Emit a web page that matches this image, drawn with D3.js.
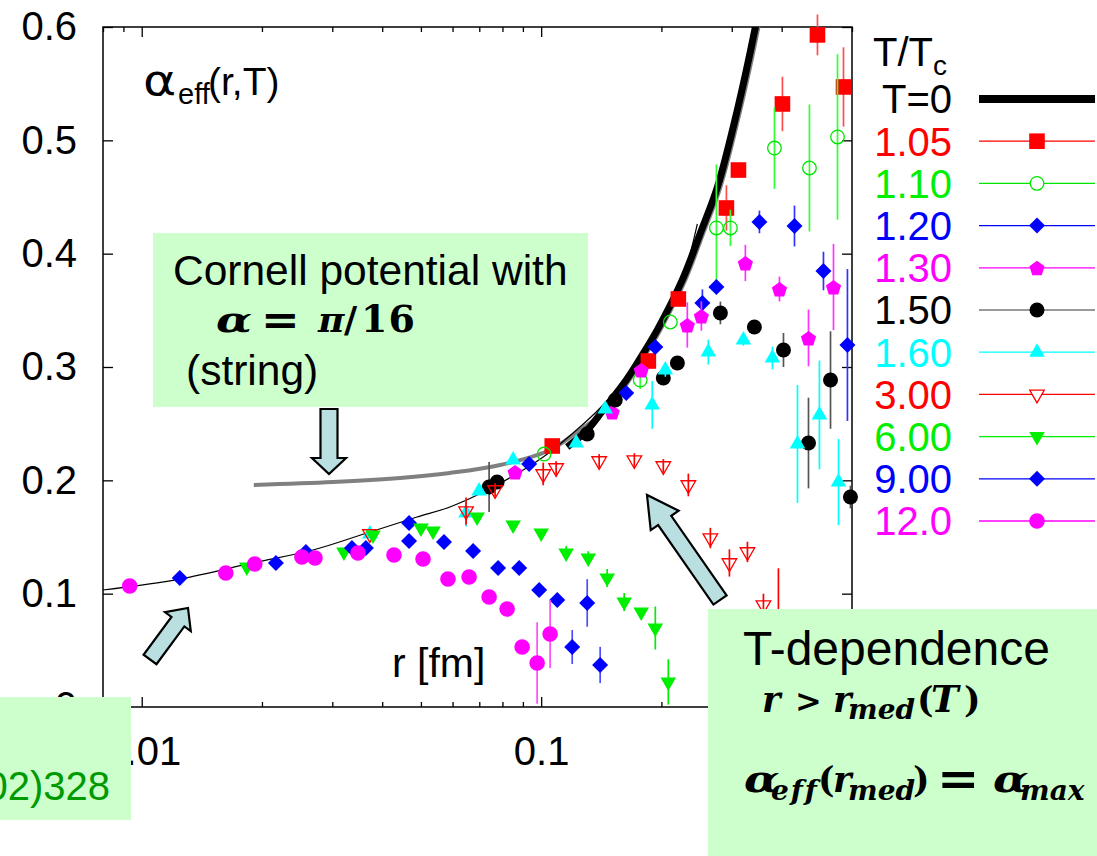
<!DOCTYPE html>
<html><head><meta charset="utf-8">
<script src="https://cdn.jsdelivr.net/npm/d3@7"></script>
<style>body{margin:0;background:#fff}svg{display:block}</style>
</head><body><svg id="c" width="1097" height="856"></svg>
<script>
// ---------------- data ----------------
const xDomain = [0.008, 0.6];
const yDomain = [0, 0.6];
const xMajor = [0.01, 0.1];
const xMajorLabels = ["0.01", "0.1"];
const xMinor = [0.008,0.009,0.02,0.03,0.04,0.05,0.06,0.07,0.08,0.09,0.2,0.3,0.4,0.5,0.6];
const yTicks = [0, 0.1, 0.2, 0.3, 0.4, 0.5, 0.6];
const yTickLabels = ["0", "0.1", "0.2", "0.3", "0.4", "0.5", "0.6"];

// T=0 curve (thick black)
const t0R = [0.1162,0.1304,0.1430,0.1633,0.1823,0.1953,0.2256,0.2504,0.2762,0.3098,0.3438,0.3539];
const t0A = [0.2294,0.2444,0.2621,0.2885,0.3150,0.3327,0.3768,0.4182,0.4588,0.5268,0.6000,0.6238];
// Cornell potential, alpha = pi/16 (gray)
const cornR = [0.01908,0.03011,0.04432,0.0591,0.07894,0.1053,0.1231,0.1455,0.1662,0.1855,0.1987,0.2296,0.2547,0.2810,0.3152,0.3499,0.3601];
const cornA = [0.1959,0.1985,0.2021,0.2065,0.2135,0.2268,0.2427,0.2621,0.2885,0.3150,0.3327,0.3768,0.4182,0.4588,0.5268,0.6000,0.6238];
// thin perturbative curve
const pertR = [0.00798,0.01245,0.01897,0.02683,0.03663,0.04888,0.0591,0.0758,0.1012,0.1202,0.1405,0.1671,0.1931,0.2230,0.2460];
const pertA = [0.1032,0.1129,0.1271,0.1385,0.1535,0.1676,0.1765,0.1941,0.2206,0.2418,0.2638,0.2956,0.3282,0.3712,0.4262];

const legendKeys = ["T=0","1.05","1.10","1.20","1.30","1.50","1.60","3.00","6.00","9.00","12.0"];

const r105 = [0.1066,0.1855,0.2205,0.2909,0.3118,0.4018,0.4917,0.5713];
const a105 = [0.2303,0.3053,0.3600,0.4403,0.4738,0.5321,0.5930,0.5471];
const e105 = [0,0,0,0.02,0.006,0.024,0.018,0.035];

const r110 = [0.1017,0.1770,0.2106,0.2746,0.2977,0.3837,0.4695,0.5519];
const a110 = [0.2232,0.2885,0.3397,0.4227,0.4227,0.4932,0.4756,0.5030];
const e110 = [0,0.008,0,0.056,0.016,0.036,0.056,0.073];

const r120 = [0.04669,0.0933,0.1633,0.1931,0.2533,0.2746,0.3519,0.4307,0.5090,0.5844];
const a120 = [0.1624,0.2144,0.2771,0.3177,0.3565,0.3706,0.4280,0.4244,0.3847,0.3194];
const e120 = [0,0,0,0,0.012,0,0.01,0.018,0.017,0.067];

const r130 = [0.08605,0.1506,0.1780,0.2322,0.2518,0.3245,0.3950,0.4669,0.5393];
const a130 = [0.2074,0.2603,0.2974,0.3371,0.3450,0.3918,0.3688,0.3256,0.3706];
const e130 = [0,0,0,0.02,0.013,0.016,0.011,0.025,0.038];

const r150 = [0.07408,0.07759,0.1304,0.1533,0.2022,0.2193,0.2810,0.3418,0.4042,0.4669,0.5301,0.5947];
const a150 = [0.1941,0.1985,0.2409,0.2709,0.2903,0.3035,0.3477,0.3353,0.3150,0.2329,0.2885,0.1853];
const e150 = [0.022,0,0,0,0,0.006,0.01,0,0.015,0.04,0.043,0.01];

const r160 = [0.03726,0.06486,0.06993,0.08507,0.1224,0.1447,0.1897,0.2046,0.2621,0.3208,0.3793,0.4382,0.4973,0.5551];
const a160 = [0.1527,0.1712,0.1906,0.2179,0.2329,0.2629,0.2665,0.2974,0.3132,0.3238,0.3080,0.2321,0.2577,0.1985];
const e160 = [0,0.012,0,0,0,0,0.021,0.006,0.011,0.005,0.01,0.052,0.048,0.038];

const r300 = [0.03726,0.06486,0.07667,0.1012,0.1090,0.1397,0.1711,0.2022,0.2336,0.2652,0.2960,0.3284,0.3601,0.3926];
const a300 = [0.1527,0.1729,0.1915,0.2056,0.2109,0.2171,0.2179,0.2127,0.1959,0.1491,0.1271,0.1368,0.0900,0.0724];
const e300 = [0,0.012,0.006,0.01,0.006,0.006,0.006,0.006,0.01,0.009,0.012,0.009,0.01,0.05];

const r600 = [0.01833,0.03208,0.03793,0.05002,0.05362,0.06912,0.08507,0.1,0.1155,0.1312,0.1463,0.1614,0.1780,0.1931,0.2081];
const a600 = [0.1235,0.1368,0.1518,0.1579,0.1553,0.1677,0.1606,0.1535,0.1359,0.1315,0.1138,0.0926,0.0838,0.0697,0.0221];
const e600 = [0,0,0,0,0,0,0,0,0.006,0.006,0.008,0.008,0,0.019,0.02];

const r900 = [0.01245,0.02167,0.02576,0.03359,0.03641,0.04669,0.05711,0.06755,0.07804,0.0881,0.09886,0.1097,0.1196,0.1304,0.1405];
const a900 = [0.1138,0.1271,0.1368,0.1403,0.1403,0.1465,0.1456,0.1376,0.1226,0.1226,0.1032,0.0944,0.0529,0.0918,0.0371];
const e900 = [0,0,0,0,0,0,0,0,0,0,0,0.006,0.015,0.021,0.016];

const r1200 = [0.00933,0.01624,0.01919,0.02518,0.02715,0.03478,0.04281,0.05061,0.05844,0.066,0.07408,0.08218,0.08961,0.0977,0.1053];
const a1200 = [0.1068,0.1182,0.1262,0.1324,0.1315,0.1359,0.1341,0.1306,0.1129,0.1147,0.0971,0.0865,0.0529,0.0388,0.0644];
const e1200 = [0,0,0,0,0,0,0,0,0,0,0.006,0,0.005,0.036,0.03];

// ---------------- styling / build ----------------
const series = [
  {key:"1.05", r:r105, a:a105, e:e105, shape:"square",  s:7.8, col:"#ff0000", ecol:"#ff4d4d", line:"#ff0000", open:false},
  {key:"1.10", r:r110, a:a110, e:e110, shape:"circle",  s:6.8, col:"#00e600", ecol:"#33ff33", line:"#00e600", open:true},
  {key:"1.20", r:r120, a:a120, e:e120, shape:"diamond", s:8,   col:"#0000ff", ecol:"#3333ff", line:"#0000ff", open:false},
  {key:"1.30", r:r130, a:a130, e:e130, shape:"pentagon",s:8,   col:"#ff00ff", ecol:"#ff33ff", line:"#ff00ff", open:false},
  {key:"1.50", r:r150, a:a150, e:e150, shape:"circle",  s:7.5, col:"#000000", ecol:"#555555", line:"#777777", open:false},
  {key:"1.60", r:r160, a:a160, e:e160, shape:"triUp",   s:7.8, col:"#00ffff", ecol:"#00ffff", line:"#00ffff", open:false},
  {key:"3.00", r:r300, a:a300, e:e300, shape:"triDown", s:7.3, col:"#ff0000", ecol:"#ff0000", line:"#ff0000", open:true},
  {key:"6.00", r:r600, a:a600, e:e600, shape:"triDown", s:7.8, col:"#00ee00", ecol:"#00ee00", line:"#00ee00", open:false},
  {key:"9.00", r:r900, a:a900, e:e900, shape:"diamond", s:8,   col:"#0000ff", ecol:"#4d4dff", line:"#0000ff", open:false},
  {key:"12.0", r:r1200,a:a1200,e:e1200,shape:"circle",  s:7.8, col:"#ff00ff", ecol:"#ff4dff", line:"#ff00ff", open:false}
];
const labelCol = {"T=0":"#000","1.05":"#ff0000","1.10":"#00ee00","1.20":"#0000ff","1.30":"#ff00ff","1.50":"#000","1.60":"#00ffff","3.00":"#ff0000","6.00":"#00ee00","9.00":"#0000ff","12.0":"#ff00ff"};

function sym(shape, s){
  if(shape==="square") return `M${-s},${-s}h${2*s}v${2*s}h${-2*s}Z`;
  if(shape==="circle") return `M${s},0A${s},${s} 0 1,1 ${-s},0A${s},${s} 0 1,1 ${s},0Z`;
  if(shape==="diamond") return `M0,${-s}L${s},0L0,${s}L${-s},0Z`;
  if(shape==="pentagon"){
    const p=d3.range(5).map(j=>{const t=(-90+72*j)*Math.PI/180;return [s*Math.cos(t),s*Math.sin(t)+1];});
    return "M"+p.map(q=>q.join(",")).join("L")+"Z";
  }
  if(shape==="triUp") return `M0,${-1.155*s}L${s},${0.577*s}L${-s},${0.577*s}Z`;
  if(shape==="triDown") return `M0,${1.155*s}L${s},${-0.577*s}L${-s},${-0.577*s}Z`;
}

const svg = d3.select("#c");
const FONT = "'Liberation Sans', Arial, Helvetica, sans-serif";
const MATH = "'DejaVu Serif', serif";
const x = d3.scaleLog().domain(xDomain).range([103, 852]);
const y = d3.scaleLinear().domain(yDomain).range([707, 27]);

svg.append("rect").attr("width",1097).attr("height",856).attr("fill","#fff");

// axes
function styleAxis(g){ g.select(".domain").remove(); g.selectAll("line").attr("stroke","#000").attr("stroke-width",1.3);
  g.attr("font-family",FONT).attr("font-size",40); g.selectAll("text").attr("fill","#000"); }
svg.append("g").attr("transform",`translate(0,${y(0)})`)
  .call(d3.axisBottom(x).tickValues(xMajor).tickSize(-10).tickPadding(30).tickFormat((d,i)=>xMajorLabels[i])).call(styleAxis);
svg.append("g").attr("transform",`translate(0,${y(0)})`)
  .call(d3.axisBottom(x).tickValues(xMinor).tickSize(-5).tickFormat("")).call(styleAxis);
svg.append("g").attr("transform",`translate(0,${y(0.6)})`)
  .call(d3.axisTop(x).tickValues(xMajor).tickSize(-10).tickFormat("")).call(styleAxis);
svg.append("g").attr("transform",`translate(0,${y(0.6)})`)
  .call(d3.axisTop(x).tickValues(xMinor).tickSize(-5).tickFormat("")).call(styleAxis);
svg.append("g").attr("transform",`translate(${x(xDomain[0])},0)`)
  .call(d3.axisLeft(y).tickValues(yTicks).tickSize(-10).tickPadding(26).tickFormat((d,i)=>yTickLabels[i])).call(styleAxis);
svg.append("g").attr("transform",`translate(${x(xDomain[1])},0)`)
  .call(d3.axisRight(y).tickValues(yTicks).tickSize(-10).tickFormat("")).call(styleAxis);

svg.append("rect").attr("x",x(xDomain[0])).attr("y",y(0.6)).attr("width",x(xDomain[1])-x(xDomain[0])).attr("height",y(0)-y(0.6))
  .attr("fill","none").attr("stroke","#000").attr("stroke-width",1.5);

// clip
svg.append("clipPath").attr("id","plotclip").append("rect")
  .attr("x",x(xDomain[0])).attr("y",y(0.6)).attr("width",x(xDomain[1])-x(xDomain[0])).attr("height",y(0)-y(0.6));

const line = d3.line().x(d=>x(d[0])).y(d=>y(d[1])).curve(d3.curveCatmullRom.alpha(0.5));
const curves = svg.append("g").attr("clip-path","url(#plotclip)");
curves.append("path").datum(d3.zip(cornR,cornA)).attr("d",line).attr("fill","none").attr("stroke","#808080").attr("stroke-width",4);
curves.append("path").datum(d3.zip(t0R,t0A)).attr("d",line).attr("fill","none").attr("stroke","#000").attr("stroke-width",7);
curves.append("path").datum(d3.zip(pertR,pertA)).attr("d",line).attr("fill","none").attr("stroke","#000").attr("stroke-width",1.2);

// data series
series.forEach(s=>{
  const g = svg.append("g");
  const pts = s.r.map((rv,i)=>({r:rv,a:s.a[i],e:s.e[i]}));
  g.selectAll("line.eb").data(pts.filter(p=>p.e>0)).join("line").attr("class","eb")
    .attr("x1",p=>x(p.r)).attr("x2",p=>x(p.r)).attr("y1",p=>y(p.a-p.e)).attr("y2",p=>y(p.a+p.e))
    .attr("stroke",s.ecol).attr("stroke-width",1.7);
  g.selectAll("path.m").data(pts).join("path").attr("class","m")
    .attr("d",sym(s.shape,s.s)).attr("transform",p=>`translate(${x(p.r)},${y(p.a)})`)
    .attr("fill",s.open?"none":s.col).attr("stroke",s.open?s.col:"none").attr("stroke-width",1.3);
});

// legend
const ly = d3.scalePoint().domain(legendKeys).range([99,521]);
svg.append("text").attr("x",873).attr("y",66).attr("font-family",FONT).attr("font-size",40).attr("fill","#000")
  .text("T/T").append("tspan").attr("font-size",28).attr("dy",9).text("c");
const lg = svg.append("g").attr("font-family",FONT).attr("font-size",40);
lg.selectAll("text").data(legendKeys).join("text").attr("x",952).attr("y",d=>ly(d)).attr("dy","0.36em")
  .attr("text-anchor","end").attr("fill",d=>labelCol[d]).text(d=>d);
lg.append("line").attr("x1",979).attr("x2",1095).attr("y1",ly("T=0")).attr("y2",ly("T=0")).attr("stroke","#000").attr("stroke-width",8);
series.forEach(s=>{
  lg.append("line").attr("x1",979).attr("x2",1095).attr("y1",ly(s.key)).attr("y2",ly(s.key)).attr("stroke",s.line).attr("stroke-width",1.3);
  lg.append("path").attr("d",sym(s.shape,s.s)).attr("transform",`translate(1037,${ly(s.key)})`)
    .attr("fill",s.open?"#fff":s.col).attr("stroke",s.open?s.col:"none").attr("stroke-width",1.3);
});

// axis titles
const ttl = svg.append("g").attr("font-family",FONT).attr("fill","#000");
ttl.append("text").attr("transform","translate(143,95) scale(1.2,1)").attr("font-family","'DejaVu Sans', sans-serif").attr("font-size",42).text("α");
ttl.append("text").attr("x",178).attr("y",104).attr("font-size",29).text("eff");
ttl.append("text").attr("x",208).attr("y",95).attr("font-size",39).text("(r,T)");
ttl.append("text").attr("x",392).attr("y",677).attr("font-size",41).text("r [fm]");

// ---------------- overlays ----------------
function arrow(tail, tip, sw, hw, hl){
  const dx=tip[0]-tail[0], dy=tip[1]-tail[1], L=Math.hypot(dx,dy), ux=dx/L, uy=dy/L, px=-uy, py=ux;
  const b=[tip[0]-ux*hl, tip[1]-uy*hl];
  const P=[[tail[0]+px*sw,tail[1]+py*sw],[b[0]+px*sw,b[1]+py*sw],[b[0]+px*hw,b[1]+py*hw],tip,
           [b[0]-px*hw,b[1]-py*hw],[b[0]-px*sw,b[1]-py*sw],[tail[0]-px*sw,tail[1]-py*sw]];
  svg.append("path").attr("d","M"+P.map(p=>p.join(",")).join("L")+"Z")
    .attr("fill","#badfe1").attr("stroke","#000").attr("stroke-width",2.2).attr("stroke-linejoin","miter");
}
function mtext(g, px, py, str, opt){
  opt = opt || {};
  const t = g.append("text").attr("transform",`translate(${px},${py}) scale(${opt.sx||1},1)`).text(str);
  if(opt.it) t.attr("font-style","italic");
  if(opt.fs) t.attr("font-size",opt.fs);
  if(opt.ls) t.attr("letter-spacing",opt.ls);
  return t;
}
const BOX = "#ccffcc";
// Cornell box
svg.append("rect").attr("x",153).attr("y",233).attr("width",435).attr("height",174).attr("fill",BOX);
svg.append("text").attr("x",173).attr("y",285).attr("font-family",FONT).attr("font-size",42.5).text("Cornell potential with");
const m1 = svg.append("g").attr("font-family",MATH).attr("font-weight","bold").attr("font-size",34);
mtext(m1,216,332,"α",{it:1,sx:1.3,fs:36});
mtext(m1,261,334,"=",{fs:42,sx:1.1});
mtext(m1,318,332,"π",{it:1,fs:36});
mtext(m1,344,332,"/",{fs:36});
mtext(m1,361,332,"16",{fs:38,ls:1});
svg.append("text").attr("x",186).attr("y",385).attr("font-family",FONT).attr("font-size",42.5).text("(string)");
arrow([329,409],[329,474],8.5,17,16);

// lower-left arrow
arrow([150,659.5],[188,608],8,16,17);
// big arrow
arrow([720,600],[647,495],8,17,31);

// T-dependence box
svg.append("rect").attr("x",708).attr("y",609).attr("width",389).attr("height",247).attr("fill",BOX);
svg.append("text").attr("x",743).attr("y",665).attr("font-family",FONT).attr("font-size",48).text("T-dependence");
const m2 = svg.append("g").attr("font-family",MATH).attr("font-weight","bold").attr("font-size",35);
mtext(m2,762,712,"r",{it:1});
mtext(m2,795,712,">",{fs:32});
mtext(m2,833,712,"r",{it:1});
mtext(m2,848,719,"med",{it:1,fs:28});
mtext(m2,917,712,"(");
mtext(m2,931,712,"T",{it:1,fs:37});
mtext(m2,964,712,")");
mtext(m2,744,792,"α",{it:1,sx:1.25,fs:37});
mtext(m2,771,800,"eff",{it:1,fs:28,ls:2});
mtext(m2,818,792,"(");
mtext(m2,833,792,"r",{it:1});
mtext(m2,848,800,"med",{it:1,fs:28});
mtext(m2,913,792,")");
mtext(m2,937,795,"=",{fs:46,sx:1.1});
mtext(m2,993,792,"α",{it:1,sx:1.25,fs:37});
mtext(m2,1020,800,"max",{it:1,fs:28});

// left reference box
svg.append("rect").attr("x",0).attr("y",697).attr("width",131).attr("height",123).attr("fill",BOX);
svg.append("text").attr("x",110).attr("y",800).attr("text-anchor","end").attr("font-family",FONT).attr("font-size",40)
  .attr("fill","#009900").text("(2002)328");
</script></body></html>
